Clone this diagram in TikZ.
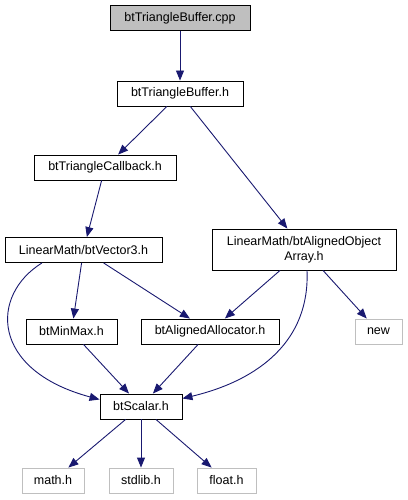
\documentclass[tikz,border=0pt]{standalone}
\usepackage{fontspec}
\setmainfont{Liberation Sans}
\usetikzlibrary{arrows.meta}
\definecolor{edgeblue}{HTML}{191970}
\definecolor{boxgray}{HTML}{BFBFBF}
\begin{document}
\begin{tikzpicture}[x=1pt,y=-1pt,
  box/.style={draw=black,line width=0.9pt,inner sep=0pt,minimum height=25pt,font=\fontsize{12.5}{15}\selectfont,align=center},
  ext/.style={box,draw=boxgray},
  edge/.style={draw=edgeblue,line width=0.9pt,-{Triangle[length=10pt,width=8pt]}}]
\useasboundingbox (0,0) rectangle (407,500);
\node[box,fill=boxgray,minimum width=140pt] (cpp) at (180,18) {btTriangleBuffer.cpp};
\node[box,minimum width=126pt] (tbh) at (180,93.5) {btTriangleBuffer.h};
\node[box,minimum width=142pt] (cb) at (105,167.5) {btTriangleCallback.h};
\node[box,minimum width=157pt] (v3) at (83.5,250) {LinearMath/btVector3.h};
\node[box,minimum width=184pt,minimum height=41pt] (oa) at (304,249.5) {LinearMath/btAlignedObject\\Array.h};
\node[box,minimum width=91pt] (mm) at (71.5,331.5) {btMinMax.h};
\node[box,minimum width=138pt] (al) at (210,331.5) {btAlignedAllocator.h};
\node[ext,minimum width=47pt] (nw) at (378.5,331.5) {new};
\node[box,minimum width=82pt] (sc) at (141,406.5) {btScalar.h};
\node[ext,minimum width=62pt] (mh) at (53,480.5) {math.h};
\node[ext,minimum width=64pt] (sl) at (141,480.5) {stdlib.h};
\node[ext,minimum width=59pt] (fl) at (226.5,480.5) {float.h};
\draw[edge] (cpp) -- (tbh);
\draw[edge] (tbh) -- (cb);
\draw[edge] (tbh) -- (oa);
\draw[edge] (cb) -- (v3);
\draw[edge] (v3) -- (mm);
\draw[edge] (v3) -- (al);
\draw[edge] ([xshift=-41.5pt]v3.south) .. controls (-10,295) and (-10,370) .. ([yshift=7pt]sc.west);
\draw[edge] (oa) -- (al);
\draw[edge] ([xshift=3pt]oa.south) .. controls (310,340) and (260,380) .. ([yshift=8pt]sc.east);
\draw[edge] (oa) -- (nw);
\draw[edge] (mm) -- (sc);
\draw[edge] (al) -- (sc);
\draw[edge] (sc) -- (mh);
\draw[edge] (sc) -- (sl);
\draw[edge] (sc) -- (fl);
\end{tikzpicture}
\end{document}
